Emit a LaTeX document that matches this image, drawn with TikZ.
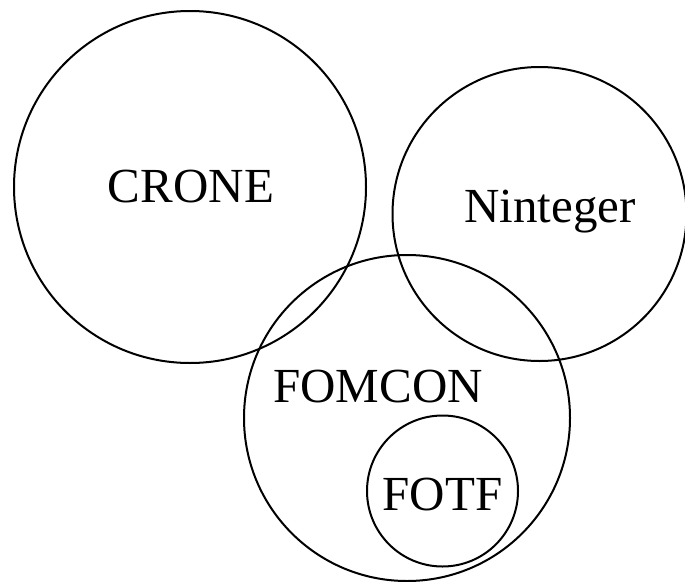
\documentclass[tikz,border=0pt]{standalone}
\usepackage{fontspec}
\setmainfont{Liberation Serif}
\tikzset{
	ring/.style={draw,circle,line width=2pt,inner sep=0pt},
	lbl/.style={anchor=base,font=\fontsize{49}{55}\selectfont}
}
\begin{document}
\begin{tikzpicture}[x=1pt,y=-1pt]
		\useasboundingbox (0,0) rectangle (685,581);
		\node[ring,minimum size=352pt] (crone) at (190,187) {};
		\node[ring,minimum size=294pt] (ninteger) at (539.5,214) {};
		\node[ring,minimum size=326pt] (fomcon) at (407,418) {};
		\node[ring,minimum size=151pt] (fotf) at (442.5,491) {};
		\node[lbl] (cronetext) at (191,202) {CRONE};
		\node[lbl] (nintegertext) at (550,222) {Ninteger};
		\node[lbl] (fomcontext) at (378,402) {FOMCON};
		\node[lbl] (fotftext) at (442.5,510) {FOTF};
	\end{tikzpicture}
\end{document}
